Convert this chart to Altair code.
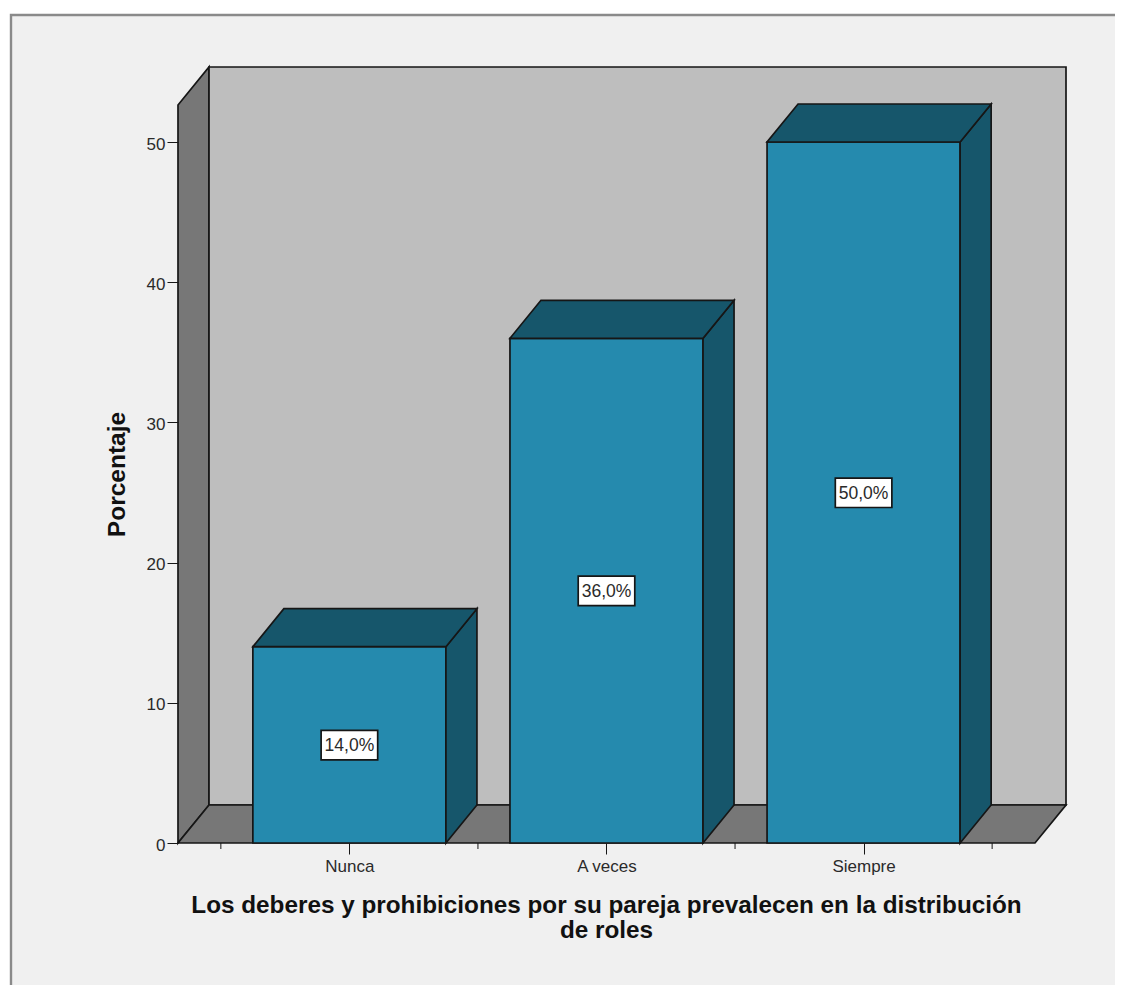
import json
import altair as alt
import pandas as pd

categories = ["Nunca", "A veces", "Siempre"]
percentages = [14.0, 36.0, 50.0]
y_ticks = [0, 10, 20, 30, 40, 50]
x_major_ticks = [0, 1, 2]
x_minor_ticks = [-0.5, 0.5, 1.5, 2.5]
x_title = ["Los deberes y prohibiciones por su pareja prevalecen en la distribución", "de roles"]
y_title = "Porcentaje"

DX, DY = 31 / 257, 38 / 14.02
HALF = 96.5 / 257
LEFT, RIGHT = -2 / 3, 8 / 3
WALL_TOP = 52.64
FONT = "Liberation Sans"
INK = "#161616"
TXT = "#2a2a2a"


def face(name, fill, pts):
    return [dict(face=name, fill=fill, x=a, y=b, y2=c) for a, b, c in pts]


walls = (
    face("a_left", "#777777", [(LEFT, 0, WALL_TOP), (LEFT + DX, DY, WALL_TOP + DY)])
    + face("b_back", "#bebebe", [(LEFT + DX, DY, WALL_TOP + DY), (RIGHT + DX, DY, WALL_TOP + DY)])
    + face("c_floor", "#777777", [(LEFT, 0, 0), (LEFT + DX, 0, DY), (RIGHT, 0, DY), (RIGHT + DX, DY, DY)])
)

bars = []
for i, v in enumerate(percentages):
    x0, x1 = i - HALF, i + HALF
    bars += face(f"{i}_front", "#258aae", [(x0, 0, v), (x1, 0, v)])
    bars += face(f"{i}_side", "#16566b", [(x1, 0, v), (x1 + DX, DY, v + DY)])
    bars += face(f"{i}_top", "#16566b", [(x0, v, v), (x0 + DX, v, v + DY), (x1, v, v + DY), (x1 + DX, v + DY, v + DY)])

labels = pd.DataFrame({
    "i": list(range(3)),
    "mid": [v / 2 for v in percentages],
    "text": [f"{v:.1f}%".replace(".", ",") for v in percentages],
})
labels["x0"] = labels.i - 0.11
labels["x1"] = labels.i + 0.11
labels["y0"] = labels.mid - 1.07
labels["y1"] = labels.mid + 1.03

xs = alt.Scale(domain=[LEFT, RIGHT + DX], nice=False, zero=False)
ys = alt.Scale(domain=[0, WALL_TOP + DY], nice=False, zero=False)

label_expr = json.dumps(categories) + "[datum.value]"

xax = alt.Axis(
    values=x_major_ticks, labelExpr=label_expr, grid=False, domain=False, zindex=1,
    tickSize=11, tickColor=INK, labelFont=FONT, labelFontSize=17, labelColor=TXT,
    labelPadding=4, title=x_title, titleFont=FONT, titleFontSize=24.3, titleFontWeight="bold",
    titleColor="#111111", titleLineHeight=25, titleX=428, titleY=50, titleBaseline="top",
    titleAnchor="middle", titleAlign="center",
)
yax = alt.Axis(
    values=y_ticks, grid=False, domain=False, zindex=1, tickSize=11, tickColor=INK,
    labelFont=FONT, labelFontSize=17, labelColor=TXT, labelPadding=2, labelOffset=2,
    title=y_title, titleFont=FONT, titleFontSize=24.5, titleFontWeight="bold", titleColor="#111111",
    titleX=-49, titleY=407,
)

panel = alt.Chart(pd.DataFrame({"a": [0]})).mark_rect(
    fill="#f0f0f0", stroke="#8a8a8a", strokeWidth=2.4
).encode(x=alt.value(-167), x2=alt.value(1200), y=alt.value(-52), y2=alt.value(1200))


def polys(rows):
    return alt.Chart(pd.DataFrame(rows)).mark_area(stroke=INK, strokeWidth=1.7, opacity=1, interpolate="linear").encode(
        x=alt.X("x:Q", scale=xs, axis=xax),
        y=alt.Y("y:Q", scale=ys, axis=yax),
        y2="y2:Q",
        fill=alt.Fill("fill:N", scale=None),
        detail="face:N",
    )


minor = alt.Chart(pd.DataFrame({"x": x_minor_ticks})).mark_rule(color=INK, strokeWidth=1).encode(
    x=alt.X("x:Q", scale=xs, axis=xax), y=alt.value(776), y2=alt.value(782)
)

boxes = alt.Chart(labels).mark_rect(fill="white", stroke=INK, strokeWidth=1.7).encode(
    x=alt.X("x0:Q", scale=xs, axis=xax), x2="x1:Q",
    y=alt.Y("y0:Q", scale=ys, axis=yax), y2="y1:Q",
)
texts = alt.Chart(labels).mark_text(font=FONT, fontSize=17.5, color=TXT, baseline="middle", align="center", dy=1).encode(
    x=alt.X("i:Q", scale=xs, axis=xax),
    y=alt.Y("mid:Q", scale=ys, axis=yax),
    text="text:N",
)

chart = alt.layer(panel, polys(walls), polys(bars), minor, boxes, texts).properties(
    width=888, height=776,
    padding={"left": 170, "top": 59, "right": 49, "bottom": 142},
    autosize=alt.AutoSizeParams(type="none"),
).configure_view(stroke=None)

chart.save("out.html", embed_options={"renderer": "svg", "actions": False})
